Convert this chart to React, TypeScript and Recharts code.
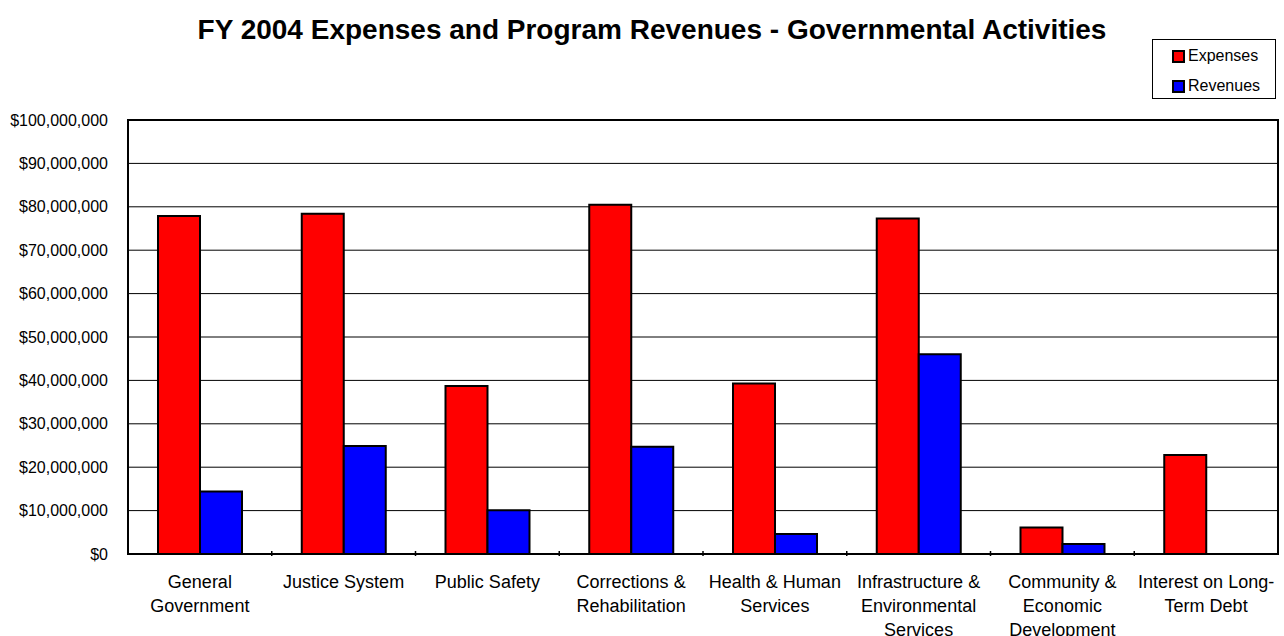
import {
  BarChart,
  Bar,
  XAxis,
  YAxis,
  CartesianGrid,
  ReferenceArea,
} from "recharts";

const categories = [
  "General Government",
  "Justice System",
  "Public Safety",
  "Corrections & Rehabilitation",
  "Health & Human Services",
  "Infrastructure & Environmental Services",
  "Community & Economic Development",
  "Interest on Long-Term Debt",
];

const tickLines = [
  ["General", "Government"],
  ["Justice System"],
  ["Public Safety"],
  ["Corrections &", "Rehabilitation"],
  ["Health & Human", "Services"],
  ["Infrastructure &", "Environmental", "Services"],
  ["Community &", "Economic", "Development"],
  ["Interest on Long-", "Term Debt"],
];

const expenses = [77900000, 78400000, 38700000, 80500000, 39300000, 77300000, 6100000, 22800000];
const revenues = [14400000, 24900000, 10100000, 24700000, 4600000, 46000000, 2300000, 0];

const yTicks = [0, 10000000, 20000000, 30000000, 40000000, 50000000, 60000000, 70000000, 80000000, 90000000, 100000000];

const seriesNames = ["Expenses", "Revenues"];
const seriesColors = ["#FF0000", "#0000FF"];

const title = "FY 2004 Expenses and Program Revenues - Governmental Activities";

const W = 1284;
const H = 636;
const PLOT_LEFT = 128;
const PLOT_RIGHT = 6;
const FONT = "'Liberation Sans', Arial, sans-serif";

const data = categories.map((name, i) => ({
  name,
  expenses: expenses[i],
  revenues: revenues[i],
}));

const money = (v: number) => "$" + v.toLocaleString("en-US");

const bandHalf = (W - PLOT_LEFT - PLOT_RIGHT) / categories.length / 2;

const CategoryTick = (props: any) => {
  const { x, y, index } = props;
  const lines = tickLines[index] || [];
  return (
    <g>
      {index < categories.length - 1 && (
        <line x1={x + bandHalf} x2={x + bandHalf} y1={y} y2={y - 5} stroke="#000" strokeWidth={1.5} />
      )}
      <text x={x} y={y} textAnchor="middle" fontSize={18} fontFamily={FONT} fill="#000">
        {lines.map((l: string, i: number) => (
          <tspan key={i} x={x} dy={i === 0 ? 32 : 24}>
            {l}
          </tspan>
        ))}
      </text>
    </g>
  );
};

const App = () => {
  return (
    <div
      style={{
        position: "absolute",
        left: 0,
        top: 0,
        width: W,
        height: H,
        background: "#fff",
        fontFamily: FONT,
      }}
    >
      <div
        style={{
          position: "absolute",
          left: 0,
          width: 1304,
          top: 14,
          textAlign: "center",
          fontWeight: "bold",
          fontSize: 28,
          color: "#000",
          lineHeight: "32px",
        }}
      >
        {title}
      </div>
      <div
        style={{
          position: "absolute",
          left: 1152,
          top: 39,
          width: 124,
          height: 60,
          border: "1px solid #000",
          boxSizing: "border-box",
        }}
      >
        {seriesNames.map((n, i) => (
          <div
            key={n}
            style={{
              position: "absolute",
              left: 19,
              top: 7 + i * 30,
              display: "flex",
              alignItems: "center",
              fontSize: 16,
              lineHeight: "18px",
            }}
          >
            <span
              style={{
                display: "inline-block",
                width: 9,
                height: 9,
                background: seriesColors[i],
                border: "2px solid #000",
                marginRight: 3,
              }}
            />
            {n}
          </div>
        ))}
      </div>
      <BarChart
        width={W}
        height={H}
        data={data}
        margin={{ top: 120, right: PLOT_RIGHT, left: 0, bottom: 0 }}
        barCategoryGap={30}
        barGap={0}
      >
        <CartesianGrid vertical={false} stroke="#000" strokeWidth={1} />
        <XAxis
          dataKey="name"
          interval={0}
          height={82}
          tickLine={false}
          tickSize={0}
          axisLine={{ stroke: "#000", strokeWidth: 2 }}
          tick={<CategoryTick />}
        />
        <YAxis
          width={PLOT_LEFT}
          domain={[0, 100000000]}
          ticks={yTicks}
          interval={0}
          tickFormatter={money}
          tickLine={false}
          tickSize={0}
          tickMargin={20}
          axisLine={{ stroke: "#000", strokeWidth: 2 }}
          tick={{ fontSize: 16, fill: "#000", fontFamily: FONT }}
        />
        <ReferenceArea
          y1={0}
          y2={100000000}
          fill="none"
          fillOpacity={0}
          stroke="#000"
          strokeWidth={2}
        />
        <Bar
          dataKey="expenses"
          name={seriesNames[0]}
          fill={seriesColors[0]}
          stroke="#000"
          strokeWidth={2}
          isAnimationActive={false}
        />
        <Bar
          dataKey="revenues"
          name={seriesNames[1]}
          fill={seriesColors[1]}
          stroke="#000"
          strokeWidth={2}
          isAnimationActive={false}
        />
      </BarChart>
    </div>
  );
};

export default App;
